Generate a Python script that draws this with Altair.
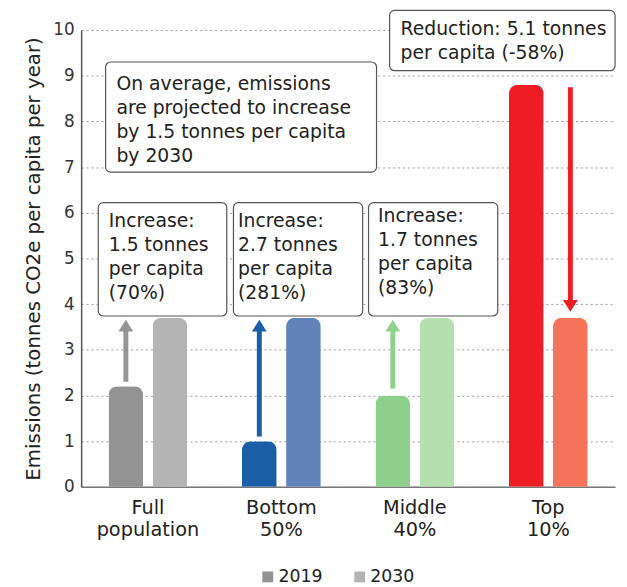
import altair as alt
import pandas as pd

FONT = "DejaVu Sans"

groups = ["Full population", "Bottom 50%", "Middle 40%", "Top 10%"]
years = ["2019", "2030"]
values_2019 = [2.2, 1.0, 2.0, 8.8]
values_2030 = [3.7, 3.7, 3.7, 3.7]
colors_2019 = ["#939393", "#1a5ea8", "#8fcf8c", "#ee1c25"]
colors_2030 = ["#b4b4b4", "#6282bb", "#b6dfb0", "#f4735a"]
y_ticks = list(range(0, 11))

# arrows (from 2019 level towards 2030 level)
arrow_year = ["2019", "2019", "2019", "2030"]
arrow_start = [2.3, 1.1, 2.15, 8.75]
arrow_head = [3.53, 3.53, 3.53, 3.96]
arrow_dir = ["up", "up", "up", "down"]
arrow_colors = ["#969696", "#1a5ea8", "#90d18c", "#ee1c25"]

# annotation boxes (x in group units 0..4, y in data units)
box_texts = [
    "On average, emissions\nare projected to increase\nby 1.5 tonnes per capita\nby 2030",
    "Increase:\n1.5 tonnes\nper capita\n(70%)",
    "Increase:\n2.7 tonnes\nper capita\n(281%)",
    "Increase:\n1.7 tonnes\nper capita\n(83%)",
    "Reduction: 5.1 tonnes\nper capita (-58%)",
]
box_x0 = [0.183, 0.128, 1.141, 2.153, 2.311]
box_x1 = [2.213, 1.091, 2.109, 3.121, 4.0]
box_top = [9.30, 6.22, 6.22, 6.22, 10.43]
box_bottom = [6.89, 3.74, 3.74, 3.74, 9.11]
text_x = [0.264, 0.207, 1.175, 2.224, 2.393]
text_top = [9.02, 6.02, 6.02, 6.13, 10.22]

rows = []
for g, v1, v2 in zip(groups, values_2019, values_2030):
    rows.append({"group": g, "year": "2019", "value": v1, "key": g + " 2019"})
    rows.append({"group": g, "year": "2030", "value": v2, "key": g + " 2030"})
bars_df = pd.DataFrame(rows)
keys = list(bars_df["key"])
key_colors = []
for c1, c2 in zip(colors_2019, colors_2030):
    key_colors += [c1, c2]

arrows_df = pd.DataFrame({
    "group": groups, "year": arrow_year, "start": arrow_start,
    "head": arrow_head, "dir": arrow_dir, "color": arrow_colors,
})
boxes_df = pd.DataFrame({
    "text": box_texts, "x0": box_x0, "x1": box_x1, "top": box_top,
    "bottom": box_bottom, "tx": text_x, "ty": text_top,
})

x_enc = alt.X(
    "group:N", sort=groups,
    scale=alt.Scale(domain=groups, paddingInner=0, paddingOuter=0),
    axis=alt.Axis(title=None, labelExpr="split(datum.label, ' ')", labelAngle=0,
                  labelFontSize=19.5, labelLineHeight=22, labelPadding=12, ticks=False,
                  domainColor="#777", domainWidth=1.5, labelColor="#222", grid=False),
)
xoff_enc = alt.XOffset("year:N", sort=years,
                       scale=alt.Scale(domain=years, paddingInner=0.213, paddingOuter=0.62))
TITLE = "Emissions (tonnes CO2e per capita per year)"
y_scale = alt.Scale(domain=[0, 10], nice=False)
y_axis = alt.Axis(title=TITLE, values=y_ticks, grid=True, gridDash=[2, 3],
                  gridColor="#9a9a9a", gridWidth=1, ticks=False, labelPadding=7,
                  domainColor="#555", domainWidth=1.5, labelFontSize=17,
                  labelColor="#333", titleFontSize=20, titleFontWeight="normal",
                  titleColor="#222", titlePadding=9)

bars = alt.Chart(bars_df).mark_bar(cornerRadiusTopLeft=9, cornerRadiusTopRight=9).encode(
    x=x_enc,
    xOffset=xoff_enc,
    y=alt.Y("value:Q", scale=y_scale, axis=y_axis, title=TITLE),
    color=alt.Color("key:N", scale=alt.Scale(domain=keys, range=key_colors),
                    legend=alt.Legend(values=[keys[0], keys[1]],
                                      labelExpr="slice(datum.label, -4)",
                                      orient="none", legendX=180, legendY=544,
                                      direction="horizontal", title=None,
                                      symbolType="square", symbolSize=121,
                                      labelFontSize=17.5, labelColor="#222",
                                      columnPadding=28, labelOffset=2,
                                      symbolStrokeWidth=0)),
)

shafts = alt.Chart(arrows_df).mark_rule(strokeWidth=5).encode(
    x=x_enc, xOffset=xoff_enc,
    y=alt.Y("start:Q", scale=y_scale, axis=y_axis, title=TITLE), y2="head:Q",
    stroke=alt.Stroke("color:N", scale=None),
)
heads_up = alt.Chart(arrows_df).transform_filter(alt.datum.dir == "up").mark_point(
    filled=True, shape="M-1,0.8L1,0.8L0,-0.8Z", size=225, opacity=1, strokeWidth=0
).encode(
    x=x_enc, xOffset=xoff_enc,
    y=alt.Y("head:Q", scale=y_scale, axis=y_axis, title=TITLE),
    fill=alt.Fill("color:N", scale=None),
)
heads_down = alt.Chart(arrows_df).transform_filter(alt.datum.dir == "down").mark_point(
    filled=True, shape="M-1,-0.8L1,-0.8L0,0.8Z", size=225, opacity=1, strokeWidth=0
).encode(
    x=x_enc, xOffset=xoff_enc,
    y=alt.Y("head:Q", scale=y_scale, axis=y_axis, title=TITLE),
    fill=alt.Fill("color:N", scale=None),
)

main = alt.layer(bars, shafts, heads_up, heads_down)

ax = alt.Scale(domain=[0, 4], nice=False, zero=False)
boxes = alt.Chart(boxes_df).mark_rect(fill="white", stroke="#555", strokeWidth=1.2,
                                      cornerRadius=5).encode(
    x=alt.X("x0:Q", scale=ax, axis=None), x2="x1:Q",
    y=alt.Y("top:Q", scale=y_scale, axis=y_axis, title=TITLE), y2="bottom:Q",
)
texts = alt.Chart(boxes_df).mark_text(align="left", baseline="top", lineBreak="\n",
                                      fontSize=19, lineHeight=24.5, font=FONT,
                                      color="#222").encode(
    x=alt.X("tx:Q", scale=ax, axis=None),
    y=alt.Y("ty:Q", scale=y_scale, axis=y_axis, title=TITLE),
    text="text:N",
)
annot = alt.layer(boxes, texts)

chart = alt.layer(main, annot).resolve_scale(x="independent").properties(
    width=540, height=462,
    padding={"left": 74, "top": 19, "right": 4, "bottom": 96},
    autosize=alt.AutoSizeParams(type="none"),
).configure_view(stroke=None).configure_axis(
    labelFont=FONT, titleFont=FONT
).configure_legend(labelFont=FONT)

chart.save("out.html", embed_options={"renderer": "svg", "actions": False})
